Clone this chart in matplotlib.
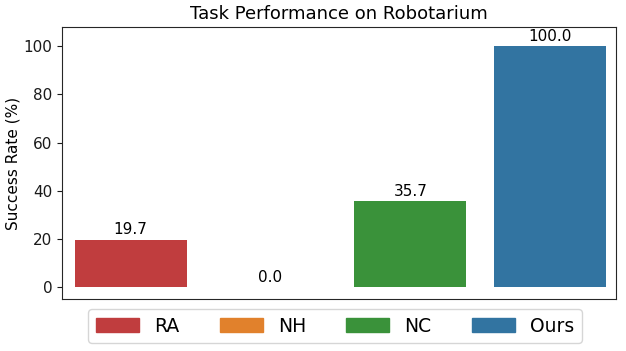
import matplotlib
matplotlib.use("Agg")
from matplotlib import pyplot as plt
from matplotlib.patches import Patch

# Data
methods = ["RA", "NH", "NC", "Ours"]
success = [19.7, 0.0, 35.7, 100.0]
colors = ["#c03d3e", "#e1812c", "#3a923a", "#3274a1"]

fig = plt.figure(figsize=(6.26, 3.51), dpi=100)
ax = fig.add_axes([62/626, 1-299/351, (616-62)/626, (299-27)/351])

x = list(range(len(methods)))
bars = ax.bar(x, success, width=0.8, color=colors)

for xi, v in zip(x, success):
    ax.text(xi, v + 1.0, "%.1f" % v, ha="center", va="bottom", fontsize=11)

ax.set_xlim(-0.49, 3.47)
ax.set_ylim(-5, 108)
ax.set_xticks([])
ax.set_yticks([0, 20, 40, 60, 80, 100])
ax.tick_params(axis="y", labelsize=11, colors="#1a1a1a")
for s in ax.spines.values():
    s.set_color("#262626")

ax.set_ylabel("Success Rate (%)", fontsize=11, labelpad=2)
ax.set_title("Task Performance on Robotarium", fontsize=13)

handles = [Patch(color=c, label=m) for c, m in zip(colors, methods)]
fig.legend(handles=handles, loc="center", bbox_to_anchor=(335/626, 1-326/351),
           ncol=4, fontsize=13.5, handlelength=2.3, columnspacing=2.15,
           handleheight=0.8)

fig.savefig("out.png", dpi=100)
